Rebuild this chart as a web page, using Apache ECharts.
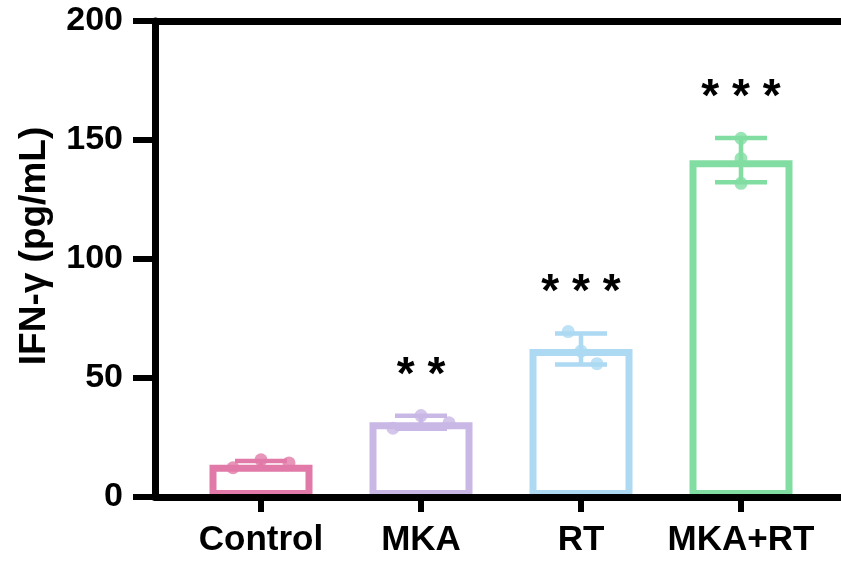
<!DOCTYPE html>
<html>
<head>
<meta charset="utf-8">
<script src="https://cdn.jsdelivr.net/npm/echarts@6/dist/echarts.min.js"></script>
<style>html,body{margin:0;padding:0;background:#fff}#c{width:841px;height:565px}</style>
</head>
<body>
<div id="c"></div>
<script>
const categories = ['Control', 'MKA', 'RT', 'MKA+RT'];
const means = [13.5, 31.4, 62.2, 141.5];
const sds = [1.6, 2.7, 6.5, 9.3];
const points = [
  [12.3, 15.6, 14.3],
  [28.9, 34.2, 31.2],
  [69.5, 61.3, 56.0],
  [150.7, 142.2, 131.8]
];
const jitter = [
  [-0.175, 0, 0.175],
  [-0.175, 0, 0.175],
  [-0.08, 0, 0.1],
  [0, 0, 0]
];
const sigLabels = ['', '* *', '* * *', '* * *'];
const yTicks = [0, 50, 100, 150, 200];
const colors = ['#E17AA8', '#C9B7E5', '#ADD9F3', '#82DDA2'];

const FONT = 'Liberation Sans, Arial, sans-serif';
const chart = echarts.init(document.getElementById('c'));

const barData = means.map((m, i) => ({ value: m, itemStyle: { borderColor: colors[i] } }));
const errData = means.map((m, i) => [i, m - sds[i], m + sds[i]]);
const dotData = [];
points.forEach((arr, i) => arr.forEach((v, j) => dotData.push({ value: [i + jitter[i][j], v], itemStyle: { color: colors[i] } })));
const sigData = means.map((m, i) => [i, m + sds[i]]);

const lineStyle = { color: '#000', width: 7 };

chart.setOption({
  animation: false,
  backgroundColor: '#fff',
  textStyle: { fontFamily: FONT },
  grid: [
    { left: 155, right: 0, top: 21, bottom: 68 },
    { left: 181, right: 20, top: 21, bottom: 68 }
  ],
  xAxis: [
    { gridIndex: 0, type: 'value', min: 0, max: 1, z: 10,
      axisLine: { show: true, onZero: false, lineStyle: lineStyle },
      axisTick: { show: false }, axisLabel: { show: false }, splitLine: { show: false } },
    { gridIndex: 0, type: 'value', position: 'top', min: 0, max: 1, z: 10,
      axisLine: { show: true, onZero: false, lineStyle: lineStyle },
      axisTick: { show: false }, axisLabel: { show: false }, splitLine: { show: false } },
    { gridIndex: 1, type: 'category', data: categories, boundaryGap: true, z: 10,
      axisLine: { show: false, onZero: false },
      axisTick: { show: true, interval: 0, alignWithLabel: true, length: 15, lineStyle: { color: '#000', width: 6 } },
      axisLabel: { interval: 0, hideOverlap: false, margin: 26, color: '#000', fontSize: 35, fontWeight: 'bold', fontFamily: FONT },
      splitLine: { show: false } },
    { gridIndex: 1, type: 'value', min: -0.5, max: 3.5, show: false }
  ],
  yAxis: [
    { gridIndex: 0, type: 'value', min: 0, max: 200, interval: 50, z: 10,
      name: 'IFN-γ (pg/mL)', nameLocation: 'middle', nameGap: 102,
      nameTextStyle: { color: '#000', fontSize: 37, fontWeight: 'bold', fontFamily: FONT, padding: [0, 0, 0, 26] },
      axisLine: { show: true, onZero: false, lineStyle: lineStyle },
      axisTick: { show: true, length: 22, lineStyle: { color: '#000', width: 6 } },
      axisLabel: { margin: 32, color: '#000', fontSize: 34, fontWeight: 'bold', fontFamily: FONT,
        formatter: v => (yTicks.indexOf(v) >= 0 ? String(v) : '') },
      splitLine: { show: false } },
    { gridIndex: 1, type: 'value', min: 0, max: 200, show: false }
  ],
  series: [
    {
      type: 'bar', xAxisIndex: 2, yAxisIndex: 1, data: barData, barWidth: 103, z: 2,
      itemStyle: { color: '#fff', borderWidth: 7 }
    },
    {
      type: 'custom', xAxisIndex: 3, yAxisIndex: 1, z: 3, data: errData,
      renderItem: (params, api) => {
        const x = api.value(0);
        const lo = api.coord([x, api.value(1)]);
        const hi = api.coord([x, api.value(2)]);
        const c = colors[params.dataIndex];
        const hw = 26;
        const st = { stroke: c, lineWidth: 4.5 };
        return { type: 'group', children: [
          { type: 'line', shape: { x1: hi[0], y1: hi[1], x2: lo[0], y2: lo[1] }, style: st },
          { type: 'line', shape: { x1: hi[0] - hw, y1: hi[1], x2: hi[0] + hw, y2: hi[1] }, style: st },
          { type: 'line', shape: { x1: lo[0] - hw, y1: lo[1], x2: lo[0] + hw, y2: lo[1] }, style: st }
        ] };
      }
    },
    {
      type: 'scatter', xAxisIndex: 3, yAxisIndex: 1, z: 4, data: dotData, symbol: 'circle', symbolSize: 13
    },
    {
      type: 'custom', xAxisIndex: 3, yAxisIndex: 1, z: 5, data: sigData,
      renderItem: (params, api) => {
        const p = api.coord([api.value(0), api.value(1)]);
        return { type: 'text', style: {
          text: sigLabels[params.dataIndex], x: p[0], y: p[1] - 40,
          align: 'center', verticalAlign: 'middle',
          fill: '#000', fontSize: 46, fontWeight: 'bold', fontFamily: FONT
        } };
      }
    }
  ]
});
</script>
</body>
</html>
